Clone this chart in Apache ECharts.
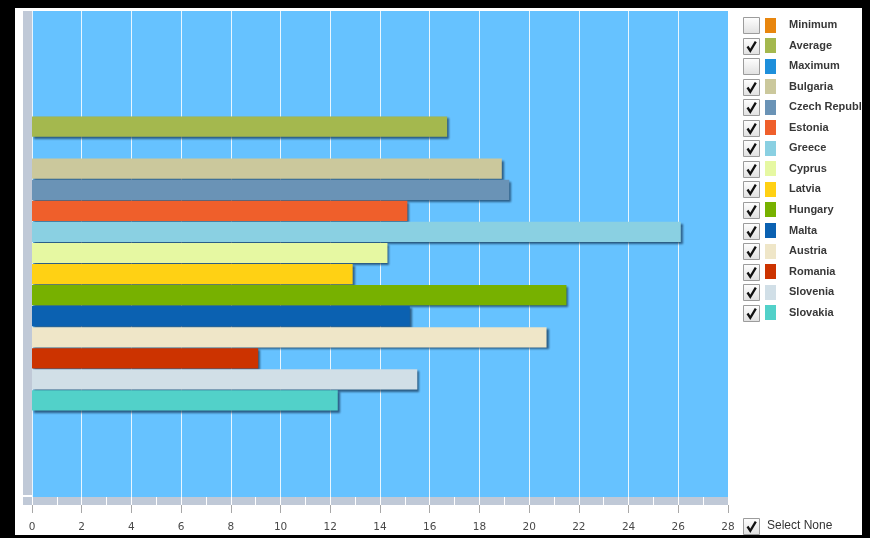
<!DOCTYPE html>
<html>
<head>
<meta charset="utf-8">
<script src="https://cdn.jsdelivr.net/npm/echarts/dist/echarts.min.js"></script>
<style>
  html, body { margin: 0; padding: 0; background: #000; width: 870px; height: 538px; overflow: hidden; }
  #frame { position: absolute; left: 15px; top: 8px; width: 847px; height: 527px; background: #fff; }
  #chart { position: absolute; left: 0; top: 0; width: 862px; height: 535px; }
</style>
</head>
<body>
<div id="frame"></div>
<div id="chart"></div>
<script>
// Series names, in drawing order (top to bottom)
const categories = ['Minimum', 'Average', 'Maximum', 'Bulgaria', 'Czech Republic', 'Estonia', 'Greece',
  'Cyprus', 'Latvia', 'Hungary', 'Malta', 'Austria', 'Romania', 'Slovenia', 'Slovakia'];

// Bar values (Minimum / Maximum are switched off)
const values = [null, 16.7, null, 18.9, 19.2, 15.1, 26.1, 14.3, 12.9, 21.5, 15.2, 20.7, 9.1, 15.5, 12.3];

// Which series are ticked in the legend
const checked = [false, true, false, true, true, true, true, true, true, true, true, true, true, true, true];

// Series colours
const colors = ['#E8860E', '#A4B84E', '#1E8FDB', '#CBC89C', '#6A93B6', '#EF5F2B', '#8AD0E2',
  '#E6F8A2', '#FFD114', '#77B100', '#0B61B1', '#EFE6C8', '#CC3300', '#D1DFE7', '#52D1C9'];

// Value axis range and tick spacing
const axisMin = 0;
const axisMax = 28;
const majorStep = 2;
const minorStep = 1;

const chart = echarts.init(document.getElementById('chart'), null, { renderer: 'canvas' });

const stripGray = '#C0C9D7';
const plotLeft = 32, plotRight = 862 - 728;

// Legend with check boxes, built from the arrays above
function checkBox(x, y, on) {
  const parts = [{
    type: 'rect',
    shape: { x: x, y: y, width: 16, height: 16 },
    style: {
      fill: new echarts.graphic.LinearGradient(0, 0, 0, 1, [
        { offset: 0, color: '#ffffff' }, { offset: 1, color: '#e0e0e0' }]),
      stroke: '#9c9c9c', lineWidth: 1
    }
  }];
  if (on) {
    parts.push({
      type: 'polyline',
      shape: { points: [[x + 4, y + 8], [x + 6.8, y + 12.3], [x + 12.3, y + 3.2]] },
      style: { stroke: '#111', lineWidth: 2.3, fill: null, lineJoin: 'miter' }
    });
  }
  return parts;
}

const legendItems = [];
categories.forEach(function (name, i) {
  const cy = 25 + i * 20.55;
  checkBox(743.5, Math.round(cy - 8) + 0.5, checked[i]).forEach(function (p) { legendItems.push(p); });
  legendItems.push({
    type: 'rect',
    shape: { x: 765, y: Math.round(cy - 7.5), width: 11, height: 15 },
    style: { fill: colors[i] }
  });
  legendItems.push({
    type: 'text',
    x: 789, y: cy,
    style: {
      text: name, fill: '#383838', font: 'bold 11px "Liberation Sans", Arial, sans-serif',
      verticalAlign: 'middle', align: 'left'
    }
  });
});
checkBox(743.5, 518.5, true).forEach(function (p) { legendItems.push(p); });
legendItems.push({
  type: 'text', x: 767, y: 526,
  style: { text: 'Select None', fill: '#333', font: '12px "Liberation Sans", Arial, sans-serif', verticalAlign: 'middle' }
});

const option = {
  animation: false,
  grid: [
    // plot background
    { left: plotLeft, right: plotRight, top: 11, bottom: 535 - 497, show: true, backgroundColor: '#66C2FF', borderWidth: 0 },
    // bars
    { left: plotLeft, right: plotRight, top: 95, bottom: 535 - 411 },
    // bottom strip with unit dividers
    { left: plotLeft, right: plotRight, top: 497, height: 8, show: true, backgroundColor: stripGray, borderWidth: 0 },
    // left strip
    { left: 23, width: 9, top: 11, bottom: 535 - 495, show: true, backgroundColor: stripGray, borderWidth: 0 },
    // strip corner
    { left: 23, width: 9, top: 497, height: 8, show: true, backgroundColor: stripGray, borderWidth: 0 }
  ],
  xAxis: [
    {
      gridIndex: 0, type: 'value', min: axisMin, max: axisMax, interval: majorStep, position: 'bottom', offset: 8,
      axisLine: { show: true, onZero: false, lineStyle: { color: 'rgba(0,0,0,0)' } },
      axisTick: { show: true, length: 8, lineStyle: { color: '#a8a8a8', width: 1 } },
      axisLabel: { margin: 17, fontSize: 10.5, color: '#4a4a4a', fontFamily: '"DejaVu Sans", Verdana, sans-serif' },
      splitLine: { show: true, lineStyle: { color: 'rgba(255,255,255,0.85)', width: 1 } }
    },
    {
      gridIndex: 1, type: 'value', min: axisMin, max: axisMax, show: false
    },
    {
      gridIndex: 2, type: 'value', min: axisMin, max: axisMax, interval: minorStep,
      axisLine: { show: false }, axisTick: { show: false }, axisLabel: { show: false },
      splitLine: { show: true, lineStyle: { color: '#ffffff', width: 1 } }
    },
    { gridIndex: 3, type: 'value', show: false, splitLine: { show: false } },
    { gridIndex: 4, type: 'value', show: false, splitLine: { show: false } }
  ],
  yAxis: [
    { gridIndex: 0, type: 'value', show: false, splitLine: { show: false } },
    { gridIndex: 1, type: 'category', data: categories, inverse: true, show: false },
    { gridIndex: 2, type: 'value', show: false, splitLine: { show: false } },
    { gridIndex: 3, type: 'value', show: false, splitLine: { show: false } },
    { gridIndex: 4, type: 'value', show: false, splitLine: { show: false } }
  ],
  series: [{
    type: 'bar',
    xAxisIndex: 1, yAxisIndex: 1,
    barCategoryGap: '4%',
    data: values.map(function (v, i) {
      return {
        value: checked[i] ? v : null,
        itemStyle: {
          color: colors[i],
          shadowColor: 'rgba(10,40,70,0.65)', shadowBlur: 2, shadowOffsetX: 2, shadowOffsetY: 2
        }
      };
    })
  }],
  graphic: legendItems
};

chart.setOption(option);
</script>
</body>
</html>
